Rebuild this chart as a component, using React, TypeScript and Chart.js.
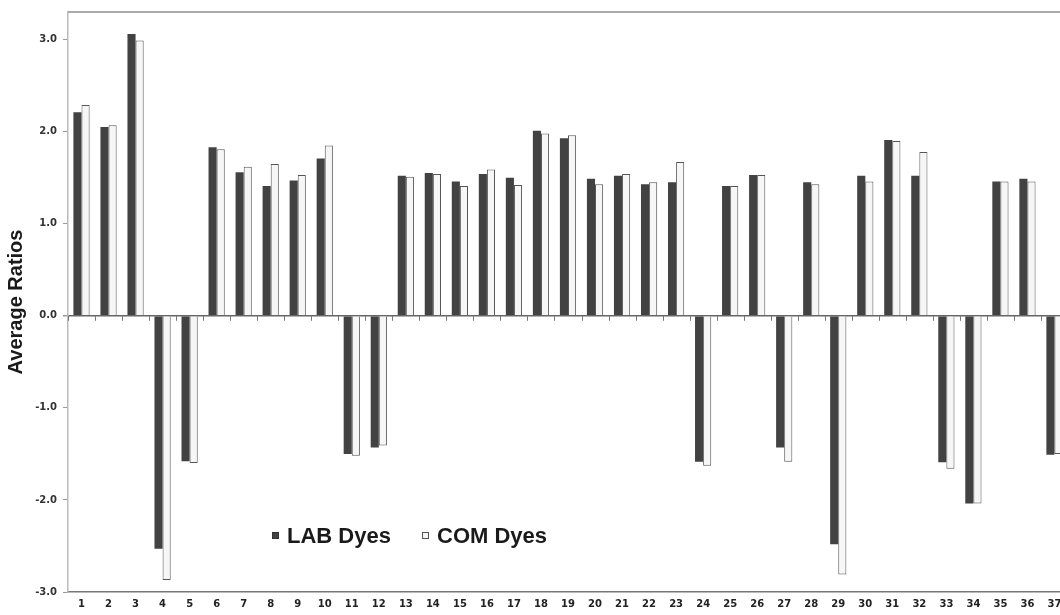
import React, { useEffect, useRef } from "react";
import { Chart, registerables } from "chart.js";

Chart.register(...registerables);

const categories = Array.from({ length: 37 }, (_, i) => String(i + 1));

const labDyes = [
  2.21, 2.05, 3.06, -2.53, -1.58, 1.83, 1.56, 1.41, 1.47, 1.71, -1.5, -1.43,
  1.52, 1.55, 1.46, 1.54, 1.5, 2.01, 1.93, 1.49, 1.52, 1.43, 1.45, -1.585,
  1.41, 1.53, -1.43, 1.45, -2.48, 1.52, 1.91, 1.52, -1.59, -2.04, 1.46, 1.49,
  -1.51,
];

const comDyes = [
  2.29, 2.07, 2.99, -2.87, -1.6, 1.81, 1.62, 1.65, 1.53, 1.85, -1.52, -1.41,
  1.51, 1.54, 1.41, 1.59, 1.42, 1.98, 1.96, 1.43, 1.54, 1.45, 1.67, -1.63,
  1.41, 1.53, -1.585, 1.43, -2.81, 1.46, 1.9, 1.78, -1.66, -2.04, 1.46, 1.46,
  -1.5,
];

const yTickValues = [-3, -2, -1, 0, 1, 2, 3];

const framePlugin = {
  id: "frame",
  afterDatasetsDraw(chart: any) {
    const { ctx, chartArea } = chart;
    const xs = chart.scales.x;
    const ys = chart.scales.y;
    ctx.save();
    ctx.strokeStyle = "#aaaaaa";
    ctx.lineWidth = 2;
    ctx.beginPath();
    ctx.moveTo(chartArea.left, chartArea.top);
    ctx.lineTo(chartArea.right + 20, chartArea.top);
    ctx.stroke();
    const y0 = ys.getPixelForValue(0);
    const n = categories.length;
    const step = (xs.right - xs.left) / n;
    ctx.strokeStyle = "#777777";
    ctx.lineWidth = 1;
    for (let i = 0; i <= n; i++) {
      const x = Math.round(xs.left + i * step) + 0.5;
      ctx.beginPath();
      ctx.moveTo(x, y0);
      ctx.lineTo(x, y0 + 5);
      ctx.stroke();
    }
    ctx.restore();
  },
};

const legendPlugin = {
  id: "innerLegend",
  afterDraw(chart: any) {
    const { ctx } = chart;
    const ds = chart.data.datasets;
    ctx.save();
    ctx.font = "bold 22px 'Liberation Sans', Arial, sans-serif";
    ctx.textBaseline = "alphabetic";
    const baseY = 543;
    const starts = [272, 422];
    ds.forEach((d: any, i: number) => {
      const x = starts[i];
      ctx.fillStyle = d.backgroundColor;
      ctx.fillRect(x, 532, 7, 7);
      ctx.strokeStyle = d.borderColor;
      ctx.lineWidth = 1;
      ctx.strokeRect(x + 0.5, 532.5, 6, 6);
      ctx.fillStyle = "#1a1a1a";
      ctx.fillText(d.label, x + 15, baseY);
    });
    ctx.restore();
  },
};

export default function App() {
  const canvasRef = useRef<HTMLCanvasElement | null>(null);

  useEffect(() => {
    if (!canvasRef.current) return;
    const chart = new Chart(canvasRef.current, {
      type: "bar",
      data: {
        labels: categories,
        datasets: [
          {
            label: "LAB Dyes",
            data: labDyes,
            backgroundColor: "#424242",
            borderColor: "#333333",
            borderWidth: 0,
            categoryPercentage: 0.6,
            barPercentage: 1.0,
          },
          {
            label: "COM Dyes",
            data: comDyes,
            backgroundColor: "#f6f6f6",
            borderColor: "#555555",
            borderWidth: 1,
            categoryPercentage: 0.6,
            barPercentage: 1.0,
          },
        ],
      },
      options: {
        animation: false,
        responsive: true,
        maintainAspectRatio: false,
        layout: { padding: { left: 0, right: 12, top: 11, bottom: 0 } },
        plugins: {
          legend: { display: false },
          tooltip: { enabled: false },
        },
        scales: {
          x: {
            type: "category",
            position: "bottom",
            grid: { display: false, drawTicks: false },
            border: { display: true, color: "#777777", width: 1.5 },
            ticks: {
              color: "#222222",
              font: { family: "'DejaVu Sans', sans-serif", weight: "bold", size: 10 },
              padding: 6,
              maxRotation: 0,
              autoSkip: false,
            },
            afterFit(scale: any) {
              scale.height = 23;
            },
          },
          y: {
            type: "linear",
            min: -3,
            max: 3.3,
            afterBuildTicks(scale: any) {
              scale.ticks = yTickValues.map((v) => ({ value: v }));
            },
            afterFit(scale: any) {
              scale.width = 68;
            },
            grid: {
              drawOnChartArea: true,
              color: (c: any) => (c.tick && c.tick.value === 0 ? "#666666" : "rgba(0,0,0,0)"),
              lineWidth: (c: any) => (c.tick && c.tick.value === 0 ? 1.5 : 1),
              tickColor: "#999999",
              tickLength: 5,
            },
            border: { display: true, color: "#bbbbbb", width: 1.5 },
            ticks: {
              color: "#333333",
              font: { family: "'DejaVu Sans', sans-serif", weight: "bold", size: 10 },
              padding: 6,
              callback: (v: any) => Number(v).toFixed(1),
            },
            title: {
              display: true,
              text: "Average Ratios",
              color: "#1a1a1a",
              font: { family: "'Liberation Sans', Arial, sans-serif", weight: "bold", size: 20 },
              padding: { top: 4, bottom: 0 },
            },
          },
        },
      },
      plugins: [framePlugin, legendPlugin],
    } as any);
    return () => chart.destroy();
  }, []);

  return (
    <div
      style={{
        position: "fixed",
        top: 0,
        left: 0,
        width: 1060,
        height: 615,
        overflow: "hidden",
        background: "#ffffff",
      }}
    >
      <div style={{ position: "relative", width: 1080, height: 615 }}>
        <canvas ref={canvasRef} />
      </div>
    </div>
  );
}
